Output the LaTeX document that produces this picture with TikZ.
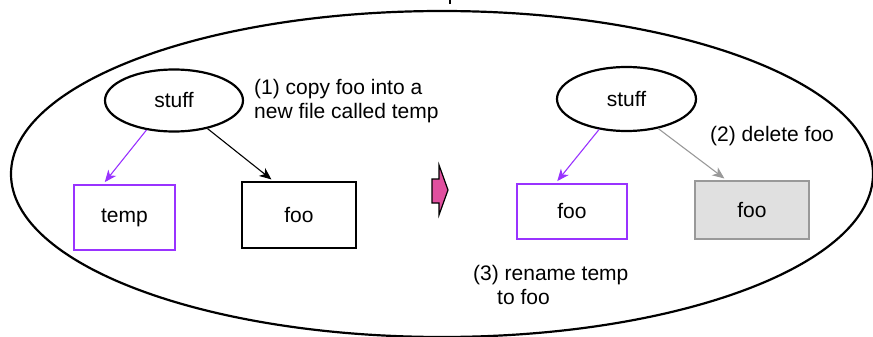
\documentclass[tikz,border=0pt]{standalone}
\usepackage{fontspec}
\setmainfont{Liberation Sans}
\usetikzlibrary{shapes.geometric,arrows.meta}
\definecolor{purp}{HTML}{9933FF}
\definecolor{grayline}{HTML}{999999}
\definecolor{grayfill}{HTML}{E0E0E0}
\definecolor{pinkfill}{HTML}{E0509F}
\tikzset{
  lbl/.style={font=\fontsize{21}{24}\selectfont, inner sep=0pt},
  stuffnode/.style={draw, line width=2.2pt, ellipse, minimum width=138pt, minimum height=62pt, inner sep=0pt, lbl},
  filebox/.style={draw, line width=2.6pt, rectangle, inner sep=0pt, lbl},
  conn/.style={line width=1.1pt, -{Stealth[length=12pt,width=10pt,inset=3.5pt]}, shorten >=2pt},
}
\begin{document}
\begin{tikzpicture}[x=1pt,y=-1pt]
\useasboundingbox (0,0) rectangle (873,337);
% outer ellipse
\draw[line width=2.2pt] (442,174) ellipse [x radius=431, y radius=163];
\draw[line width=1.5pt] (450,0) -- (450,4);
% left part
\node[stuffnode] (ls) at (174,100.5) {stuff};
\node[filebox, draw=purp, minimum width=101pt, minimum height=65pt] (temp) at (124.5,217.5) {temp};
\node[filebox, minimum width=114pt, minimum height=66pt] (foo1) at (299,215) {foo};
\draw[conn, purp] (ls.227) -- ([xshift=-21pt]temp.north);
\draw[conn, black] (ls.320) -- ([xshift=-26pt]foo1.north);
\node[lbl, anchor=west, align=left] (t1) at (254,101) {(1) copy foo into a\\new file called temp};
% block arrow
\draw[fill=pinkfill, line width=1.2pt, line join=miter] (432,179) -- (439,179) -- (439,165) -- (448,190) -- (439,215) -- (439,203) -- (432,203) -- cycle;
% right part
\node[stuffnode, minimum width=139pt, minimum height=64pt] (rs) at (626.5,99) {stuff};
\node[filebox, draw=purp, minimum width=110pt, minimum height=55pt] (foo2) at (572,211.5) {foo};
\node[filebox, draw=grayline, fill=grayfill, minimum width=114pt, minimum height=58pt] (foo3) at (752,210) {foo};
\draw[conn, purp] (rs.228) -- ([xshift=-16pt]foo2.north);
\draw[conn, grayline] (rs.317) -- ([xshift=-26pt]foo3.north);
\node[lbl, anchor=west] (t2) at (710,136) {(2) delete foo};
\node[lbl, anchor=west, align=left] (t3) at (473,285) {(3) rename temp\\\hspace*{24pt}to foo};
\end{tikzpicture}
\end{document}
